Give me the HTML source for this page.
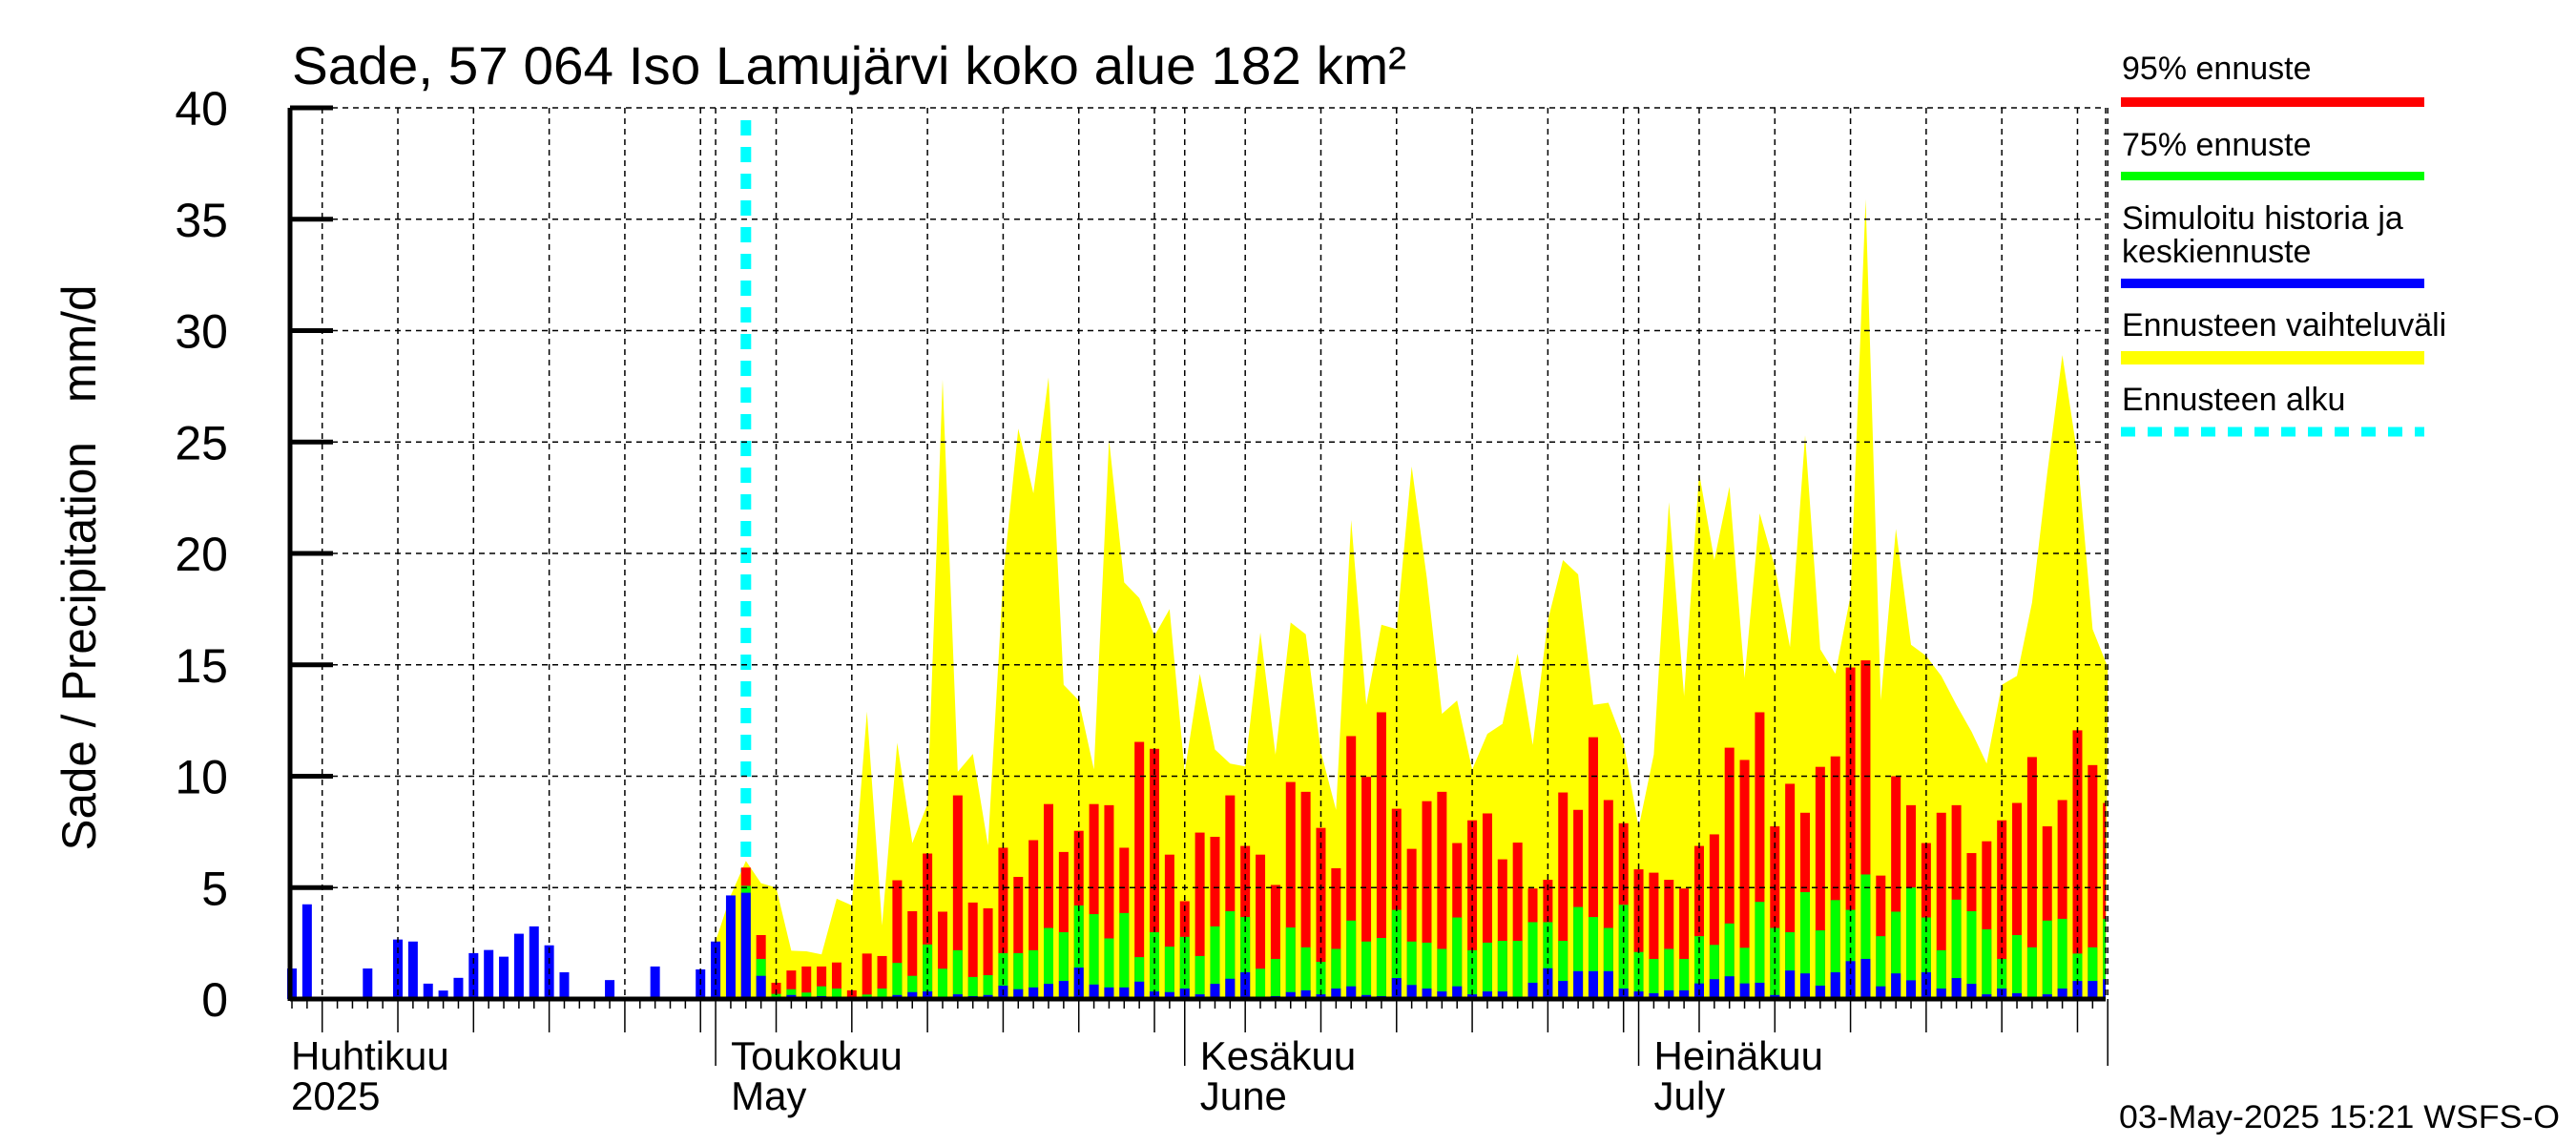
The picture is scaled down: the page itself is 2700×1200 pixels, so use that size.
<!DOCTYPE html>
<html><head><meta charset="utf-8"><title>Sade 57 064 Iso Lamujärvi</title>
<style>
html,body{margin:0;padding:0;background:#fff;}
svg{display:block;font-family:"Liberation Sans",sans-serif;}
</style></head>
<body>
<svg id="chart" width="2700" height="1200" viewBox="0 0 2700 1200" xmlns="http://www.w3.org/2000/svg">
<rect x="0" y="0" width="2700" height="1200" fill="#fff"/>
<g id="cyanLayer"></g>
<g id="yellowLayer"></g>
<g id="barLayer"></g>
<g id="gridLayer"></g>
<g id="axisLayer"></g>
<text x="306" y="88" font-size="56" textLength="1168" lengthAdjust="spacingAndGlyphs">Sade, 57 064 Iso Lamujärvi koko alue 182 km²</text>
<text transform="translate(100,595) rotate(-90)" text-anchor="middle" font-size="50" textLength="593" lengthAdjust="spacingAndGlyphs" xml:space="preserve">Sade / Precipitation   mm/d</text>
<g>
<text x="2224" y="83" font-size="34">95% ennuste</text>
<rect x="2223" y="102" width="318" height="10" fill="#ff0000"/>
<text x="2224" y="163" font-size="34">75% ennuste</text>
<rect x="2223" y="180" width="318" height="9" fill="#00ff00"/>
<text x="2224" y="240" font-size="34">Simuloitu historia ja</text>
<text x="2224" y="275" font-size="34">keskiennuste</text>
<rect x="2223" y="292" width="318" height="10" fill="#0000ff"/>
<text x="2224" y="352" font-size="34">Ennusteen vaihteluväli</text>
<rect x="2223" y="368" width="318" height="14" fill="#ffff00"/>
<text x="2224" y="430" font-size="34">Ennusteen alku</text>
<line x1="2223" y1="452.5" x2="2541" y2="452.5" stroke="#00ffff" stroke-width="10" stroke-dasharray="15 13"/>
</g>
<text x="2221" y="1182" font-size="34" textLength="462" lengthAdjust="spacingAndGlyphs">03-May-2025 15:21 WSFS-O</text>
</svg>
<script>
const histBlue = [1.37,4.25,0.08,0,0,1.37,0.02,2.67,2.58,0.69,0.38,0.95,2.06,2.2,1.9,2.93,3.26,2.41,1.2,0,0.02,0.85,0,0,1.46,0,0,1.33,2.58,4.65];
const fcStart = 30;
const fcBlue = [4.77,
1.04,0.05,0.18,0.1,0.13,0.03,0,0.02,0.02,
0.18,0.31,0.34,0.08,0.21,0.13,0.18,0.6,0.44,0.52,
0.68,0.81,1.41,0.65,0.52,0.52,0.78,0.34,0.31,0.47,
0.21,0.68,0.91,1.2,0.02,0.13,0.31,0.39,0.21,0.47,
0.57,0.18,0.13,0.94,0.63,0.47,0.34,0.57,0.21,0.34,
0.34,0.08,0.73,1.38,0.81,1.25,1.25,1.25,0.47,0.34,
0.26,0.39,0.39,0.7,0.89,1.02,0.7,0.73,0.18,1.28,
1.15,0.6,1.2,1.7,1.8,0.57,1.15,0.84,1.2,0.47,
0.94,0.68,0.21,0.47,0.26,0.08,0.21,0.47,0.81,0.81,
0.89];
const fcGreen = [5.08,
1.8,0.23,0.44,0.29,0.57,0.47,0.1,0.2,0.47,
1.62,1.04,2.45,1.36,2.19,0.99,1.07,2.06,2.06,2.19,
3.19,3.0,4.2,3.81,2.72,3.86,1.88,3.0,2.35,2.79,
1.93,3.26,3.94,3.68,1.36,1.8,3.21,2.32,1.67,2.25,
3.52,2.58,2.74,4.0,2.58,2.53,2.25,3.66,2.19,2.53,
2.61,2.61,3.45,3.45,2.61,4.13,3.68,3.19,4.23,2.11,
1.8,2.25,1.8,2.82,2.43,3.39,2.3,4.36,3.19,3.0,
4.8,3.08,4.44,4.0,5.59,2.82,3.92,5.01,3.66,2.19,
4.46,3.94,3.13,1.8,2.87,2.32,3.52,3.6,2.04,2.32,
3.6];
const fcRed = [5.9,
2.87,0.73,1.28,1.46,1.46,1.64,0.39,2.04,1.93,
5.33,3.94,6.53,3.92,9.14,4.33,4.07,6.79,5.48,7.13,
8.75,6.6,7.55,8.75,8.7,6.79,11.54,11.23,6.48,4.39,
7.47,7.28,9.14,6.87,6.48,5.12,9.74,9.3,7.68,5.87,
11.8,9.97,12.87,8.54,6.74,8.88,9.3,7.0,8.02,8.33,
6.27,7.02,4.96,5.35,9.27,8.49,11.75,8.93,7.89,5.82,
5.67,5.35,4.96,6.87,7.39,11.28,10.73,12.87,7.75,9.66,
8.36,10.42,10.89,14.88,15.2,5.54,10.0,8.7,7.0,8.36,
8.7,6.55,7.08,8.02,8.8,10.86,7.75,8.93,12.06,10.5,
8.8];
const rangeStart = 28;
const rangeTop = [2.6,4.65,
6.2,5.2,5.0,2.17,2.14,2.0,4.5,4.2,12.9,3.3,
11.5,7.0,8.75,27.8,10.2,11.0,6.9,18.9,25.6,22.7,
27.9,14.1,13.4,10.3,25.1,18.7,18.0,16.3,17.5,10.2,
14.6,11.2,10.57,10.44,16.45,10.97,16.9,16.37,11.1,8.49,
21.5,13.2,16.8,16.6,23.9,18.9,12.8,13.4,10.3,11.9,
12.35,15.5,11.4,17.0,19.7,19.06,13.2,13.3,11.5,7.7,
10.97,22.3,13.6,23.6,19.7,23.0,14.4,21.8,19.4,15.8,
25.3,15.7,14.6,18.1,35.9,13.4,21.1,15.9,15.4,14.5,
13.2,12.0,10.57,14.1,14.5,17.8,23.6,28.9,24.4,16.6,
14.9];
const yTicks = [0,5,10,15,20,25,30,35,40];
const monthLabels = ["Huhtikuu","Toukokuu","Kesäkuu","Heinäkuu"];
const monthSubLabels = ["2025","May","June","July"];
const monthStartIdx = [-2,28,59,89];
const forecastIdx = 30;
const nDays = 121;

const NS = "http://www.w3.org/2000/svg";
const X0 = 306, DX = 15.86, Y0 = 1047, DY = 23.35, LEFT = 304, RIGHT = 2207;
function xs(i){ return X0 + DX * i; }
function ys(v){ return Y0 - DY * v; }
function mk(tag, attrs, parent){
  const e = document.createElementNS(NS, tag);
  for (const k in attrs) e.setAttribute(k, attrs[k]);
  parent.appendChild(e);
  return e;
}
const cl = document.getElementById('cyanLayer');
const yl = document.getElementById('yellowLayer');
const bl = document.getElementById('barLayer');
const gl = document.getElementById('gridLayer');
const al = document.getElementById('axisLayer');

// forecast start line (behind range and bars)
const cy = mk('line', {x1: xs(forecastIdx), y1: 126, x2: xs(forecastIdx), y2: Y0, stroke: '#00ffff', 'stroke-width': 11, 'stroke-dasharray': '16 12'}, cl);



// range polygon
let pts = [xs(rangeStart) + ',' + Y0];
rangeTop.forEach((v, k) => { pts.push(xs(rangeStart + k) + ',' + ys(v)); });
pts.push(Math.min(xs(rangeStart + rangeTop.length - 1), RIGHT) + ',' + Y0);
const poly = mk('polygon', {points: pts.join(' '), fill: '#ffff00'}, yl);



const BW = 10;
function bar(i, v, color, name){
  if (v <= 0) return;
  let x = xs(i) - BW / 2, w = BW;
  if (x + w > RIGHT) w = RIGHT - x;
  const r = mk('rect', {x: x, y: ys(v), width: w, height: Y0 - ys(v), fill: color}, bl);
  
  
}
histBlue.forEach((v, i) => bar(i, v, '#0000ff', 'history-bar'));
fcRed.forEach((v, k) => bar(fcStart + k, v, '#ff0000', 'forecast-95-bar'));
fcGreen.forEach((v, k) => bar(fcStart + k, v, '#00ff00', 'forecast-75-bar'));
fcBlue.forEach((v, k) => bar(fcStart + k, v, '#0000ff', 'forecast-median-bar'));

// horizontal grid
yTicks.forEach(t => {
  if (t > 0) {
    const g = mk('line', {x1: LEFT, y1: ys(t), x2: RIGHT, y2: ys(t), stroke: '#000', 'stroke-width': 1.5, 'stroke-dasharray': '6 5'}, gl);
    
    
  }
  const tk = mk('line', {x1: LEFT, y1: ys(t), x2: LEFT + 45, y2: ys(t), stroke: '#000', 'stroke-width': 5}, al);
  
  
  const lb = mk('text', {x: 239, y: ys(t) + 18, 'font-size': 50, 'text-anchor': 'end'}, al);
  lb.textContent = String(t);
  
  
});

// vertical grid & x ticks: dates from Apr 3
const monthLens = [30,31,30,31,31];
let idx = -2;
for (let m = 0; m < monthLens.length; m++) {
  for (let d = 1; d <= monthLens[m]; d++, idx++) {
    if (idx < 0 || idx >= nDays) continue;
    const x = xs(idx);
    const isMonth = d === 1, isFive = d % 5 === 0;
    if (isMonth || isFive) {
      const g = mk('line', {x1: x, y1: ys(40), x2: x, y2: Y0, stroke: '#000', 'stroke-width': 1.5, 'stroke-dasharray': '6 5'}, gl);
      
      
    }
    const len = isMonth ? 70 : (isFive ? 35 : 10);
    const t = mk('line', {x1: x, y1: Y0, x2: x, y2: Y0 + len, stroke: '#000', 'stroke-width': 1.5}, al);
    
    
  }
}
// month labels
monthLabels.forEach((s, k) => {
  const x = Math.max(xs(monthStartIdx[k]) + 16, 305);
  const a = mk('text', {x: x, y: 1121, 'font-size': 42}, al);
  a.textContent = s;
  
  
  const b = mk('text', {x: x, y: 1163, 'font-size': 42}, al);
  b.textContent = monthSubLabels[k];
  
  
});

// axes
const ax = mk('line', {x1: LEFT, y1: ys(40), x2: LEFT, y2: Y0 + 2, stroke: '#000', 'stroke-width': 5}, al);


const bx = mk('line', {x1: LEFT, y1: Y0, x2: RIGHT, y2: Y0, stroke: '#000', 'stroke-width': 5}, al);


const rx = mk('line', {x1: RIGHT, y1: ys(40), x2: RIGHT, y2: Y0, stroke: '#000', 'stroke-width': 1.5, 'stroke-dasharray': '6 5'}, gl);


</script>
</body></html>
